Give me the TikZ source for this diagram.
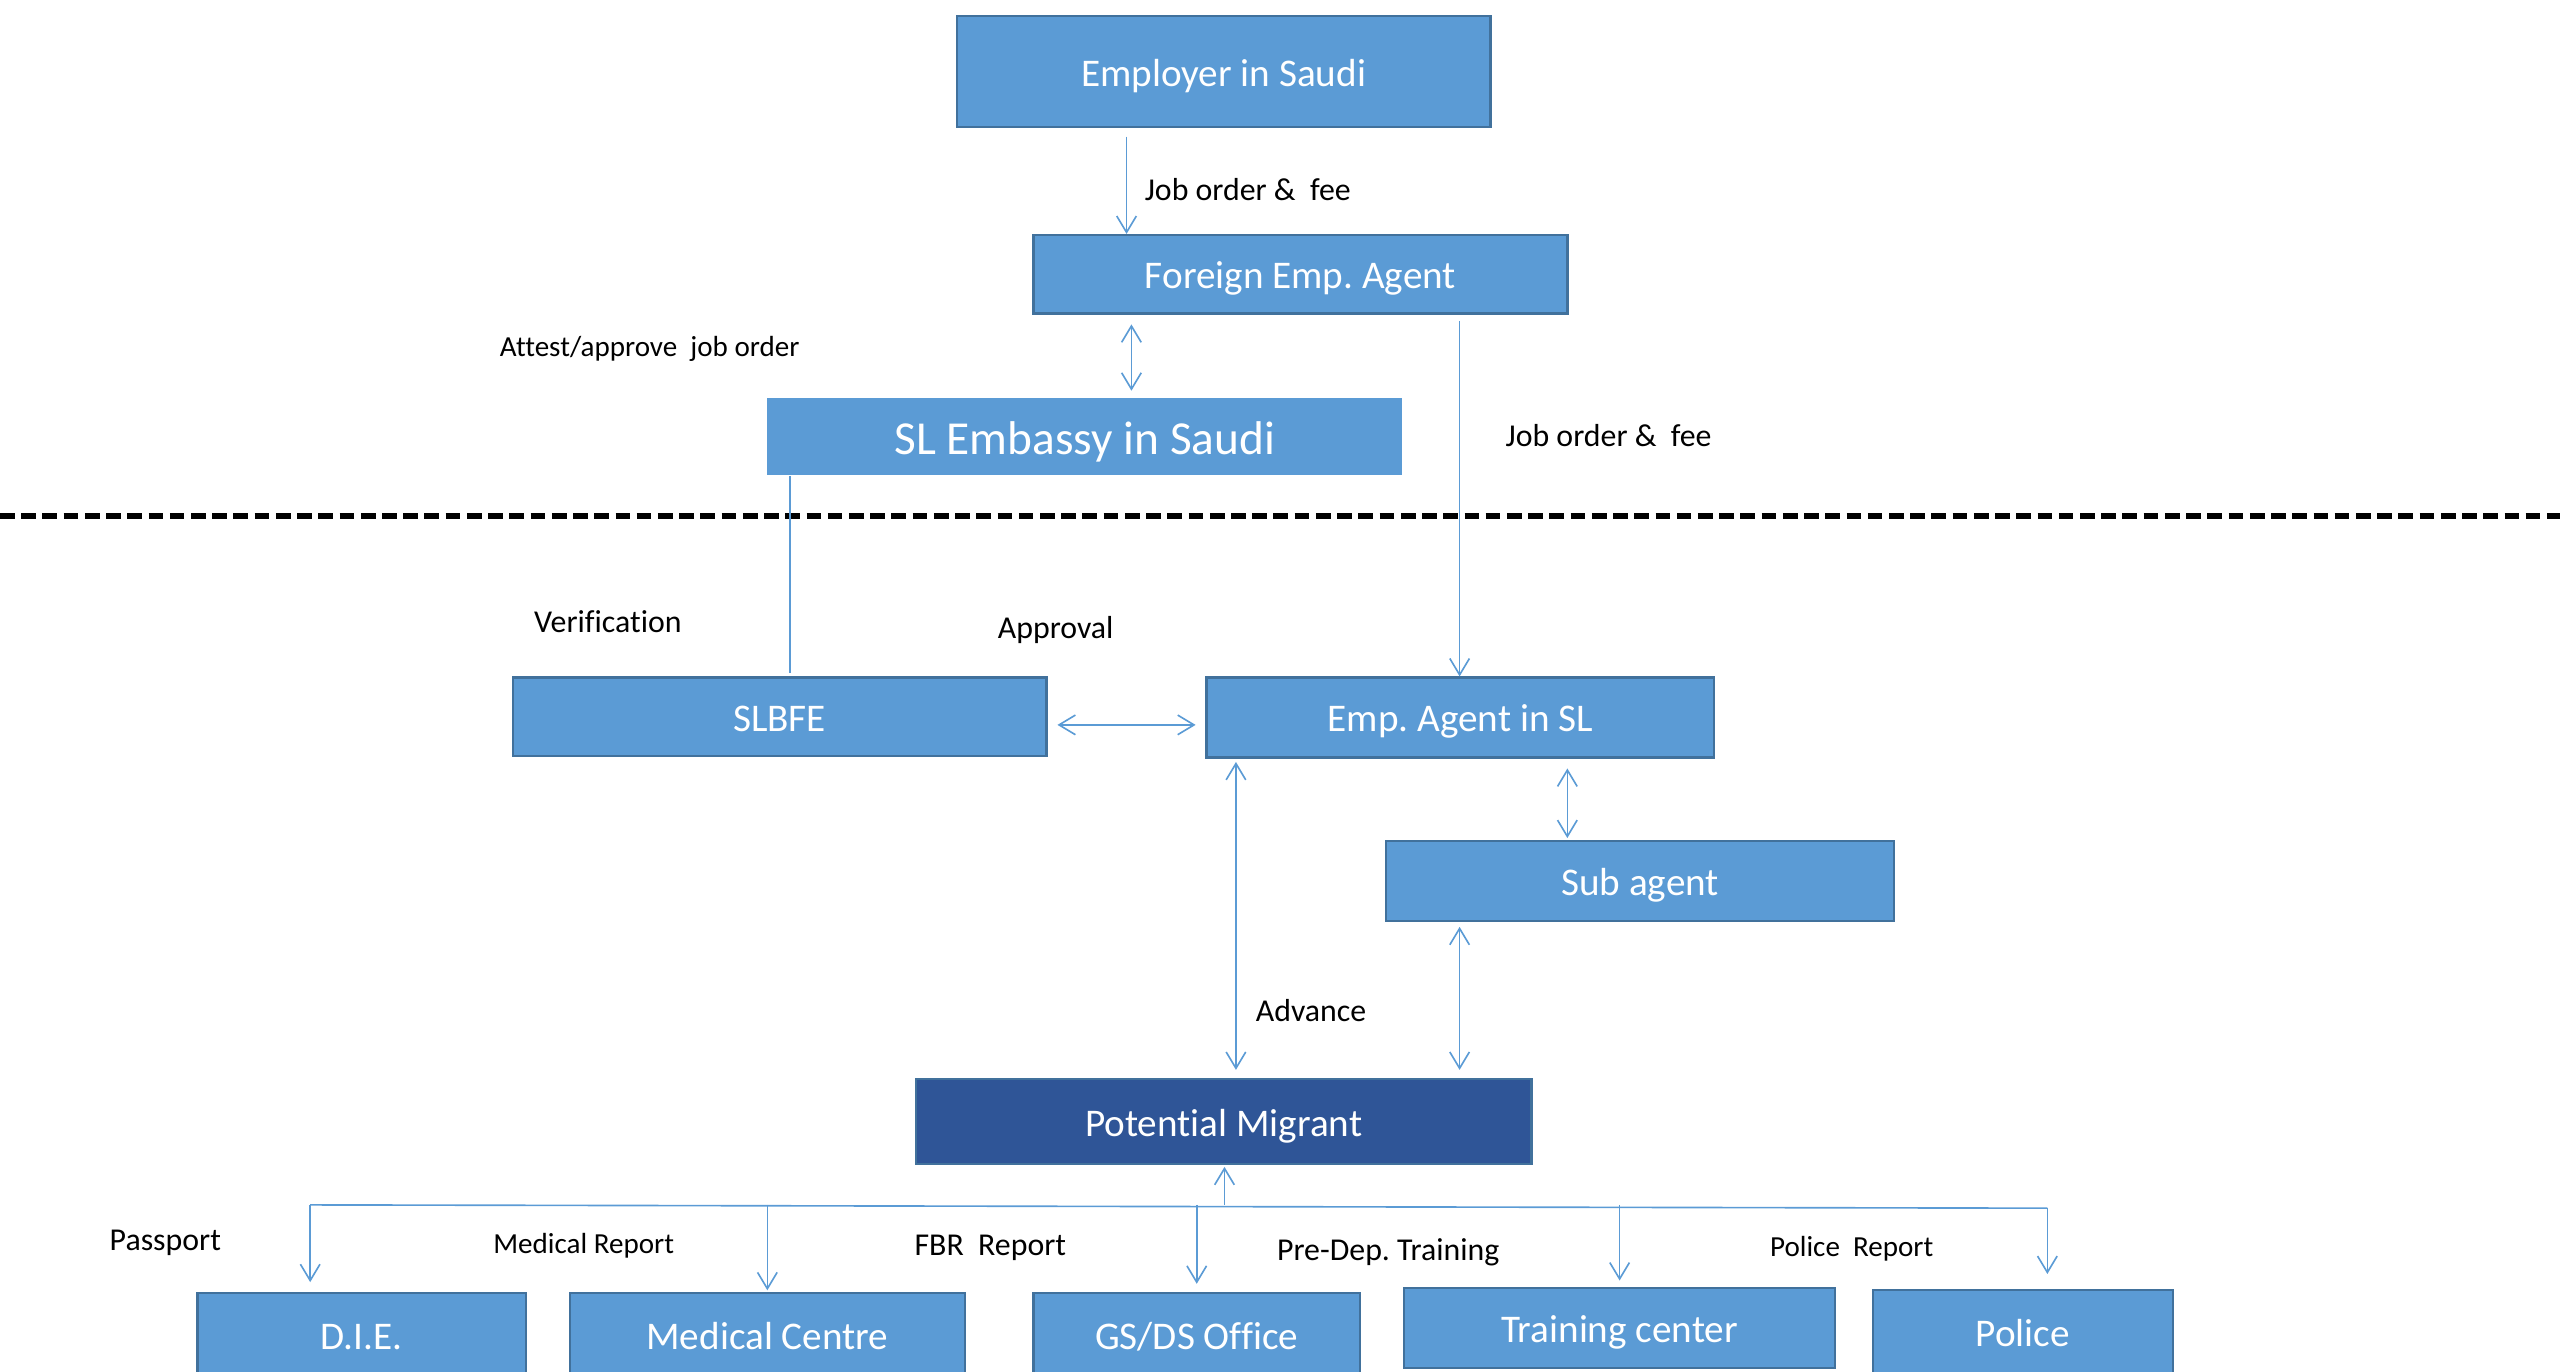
\documentclass[tikz,border=0pt]{standalone}
\usepackage{fontspec}
\setmainfont{Carlito}[Ligatures={NoCommon}]
\usetikzlibrary{arrows.meta}
\definecolor{boxblue}{HTML}{5B9BD5}
\definecolor{boxedge}{HTML}{41719C}
\definecolor{darkblue}{HTML}{2F5597}
\definecolor{linkblue}{HTML}{5B9BD5}
\frenchspacing
\tikzset{
  box/.style={fill=boxblue, draw=boxedge, line width=1.4pt, text=white,
    font=\fontsize{24}{28}\selectfont, inner sep=0pt,
    text height=17.6pt, text depth=0pt},
  lbl/.style={anchor=west, inner sep=0pt, text=black, font=\fontsize{19.5}{23}\selectfont},
  lblsmall/.style={lbl, font=\fontsize{17.8}{21}\selectfont},
  link/.style={draw=linkblue, line width=1pt},
  arr/.style={link, -{Straight Barb[length=10pt,width=12pt]}},
  biarr/.style={link, {Straight Barb[length=10pt,width=12pt]}-{Straight Barb[length=10pt,width=12pt]}},
}
\begin{document}
\begin{tikzpicture}[x=1pt,y=-1pt]
\path[use as bounding box] (0,0) rectangle (1568,840);
\clip (0,0) rectangle (1568,840);

% Saudi side
\node[box, minimum width=327pt, minimum height=68pt] (emp) at (749.5,44) {Employer in Saudi};
\node[box, minimum width=327pt, minimum height=48pt] (fea) at (796.5,168) {Foreign Emp. Agent};
\node[box, draw=none, minimum width=389pt, minimum height=47pt,
      font=\fontsize{29}{34}\selectfont, text height=21.3pt] (emb) at (664.5,267.5) {SL Embassy in Saudi};

% border between the two countries
\draw[black, line width=3.5pt, dash pattern=on 9pt off 4pt] (0,316) -- (1568,316);

% Sri Lanka side
\node[box, minimum width=327pt, minimum height=48pt] (slbfe) at (477.5,439) {SLBFE};
\node[box, minimum width=311pt, minimum height=49pt] (easl) at (894.5,439.5) {Emp. Agent in SL};
\node[box, minimum width=311pt, minimum height=49pt] (sub) at (1004.5,539.5) {Sub agent};
\node[box, fill=darkblue, minimum width=377pt, minimum height=52pt] (pm) at (749.5,687) {Potential Migrant};

% offices visited by the migrant
\node[box, minimum width=201pt, minimum height=52pt] (die) at (221.5,818) {D.I.E.};
\node[box, minimum width=242pt, minimum height=52pt] (med) at (470,818) {Medical Centre};
\node[box, minimum width=200pt, minimum height=52pt] (gsds) at (733,818) {GS/DS Office};
\node[box, minimum width=264pt, minimum height=49pt] (trc) at (992,813.5) {Training center};
\node[box, minimum width=184pt, minimum height=52pt] (pol) at (1239,816) {Police};

% connectors between the actors
\draw[arr, shorten <=5pt] ([xshift=-59.5pt]emp.south) -- ([xshift=-106.5pt]fea.north);
\draw[biarr, shorten <=6pt, shorten >=4pt] ([xshift=-103.5pt]fea.south) -- ([xshift=28.5pt]emb.north);
\draw[link, shorten >=2pt] ([xshift=-180.5pt]emb.south) -- ([xshift=6.5pt]slbfe.north);
\draw[arr, shorten <=4pt] ([xshift=97.5pt]fea.south) -- ([xshift=-0.5pt]easl.north);
\draw[biarr, shorten <=6pt, shorten >=6pt] ([yshift=-5pt]slbfe.east) -- ([yshift=-4.5pt]easl.west);
\draw[biarr, shorten <=2pt, shorten >=5pt] ([xshift=-137.5pt]easl.south) -- ([xshift=7.5pt]pm.north);
\draw[biarr, shorten <=6pt, shorten >=1pt] ([xshift=65.5pt]easl.south) -- ([xshift=-44.5pt]sub.north);
\draw[biarr, shorten <=3pt, shorten >=5pt] ([xshift=-110.5pt]sub.south) -- ([xshift=144.5pt]pm.north);

% distribution bus below the migrant
\coordinate (bj) at (750,738);
\coordinate (busL) at (190,738);
\coordinate (busR) at (1254,740);
\draw[link] (busL) -- (busR);
\draw[arr, shorten >=1pt] (bj) -- ([xshift=0.5pt]pm.south);
\draw[arr, shorten >=6pt] (busL) -- (busL |- die.north);
\draw[arr, shorten >=1pt] (med.north |- busL) -- (med.north);
\draw[arr, shorten >=5pt] (gsds.north |- busL) -- (gsds.north);
\draw[arr, shorten >=4pt] (trc.north |- busL) -- (trc.north);
\draw[arr, shorten >=9pt] (busR) -- (busR |- pol.north);

% labels
\node[lbl] (l1) at (701,116) {Job order \& \ fee};
\node[lblsmall] (l2) at (306,214) {Attest/approve \ job order};
\node[lbl] (l3) at (922,267) {Job order \& \ fee};
\node[lbl] (l4) at (327,381) {Verification};
\node[lbl] (l5) at (611,386) {Approval};
\node[lbl] (l6) at (769,619) {Advance};
\node[lbl] (l7) at (67,761) {Passport};
\node[lblsmall] (l8) at (302,763) {Medical Report};
\node[lbl] (l9) at (560,764) {FBR \ Report};
\node[lbl] (l10) at (782,767) {Pre-Dep. Training};
\node[lblsmall] (l11) at (1084,765) {Police \ Report};
\end{tikzpicture}
\end{document}
